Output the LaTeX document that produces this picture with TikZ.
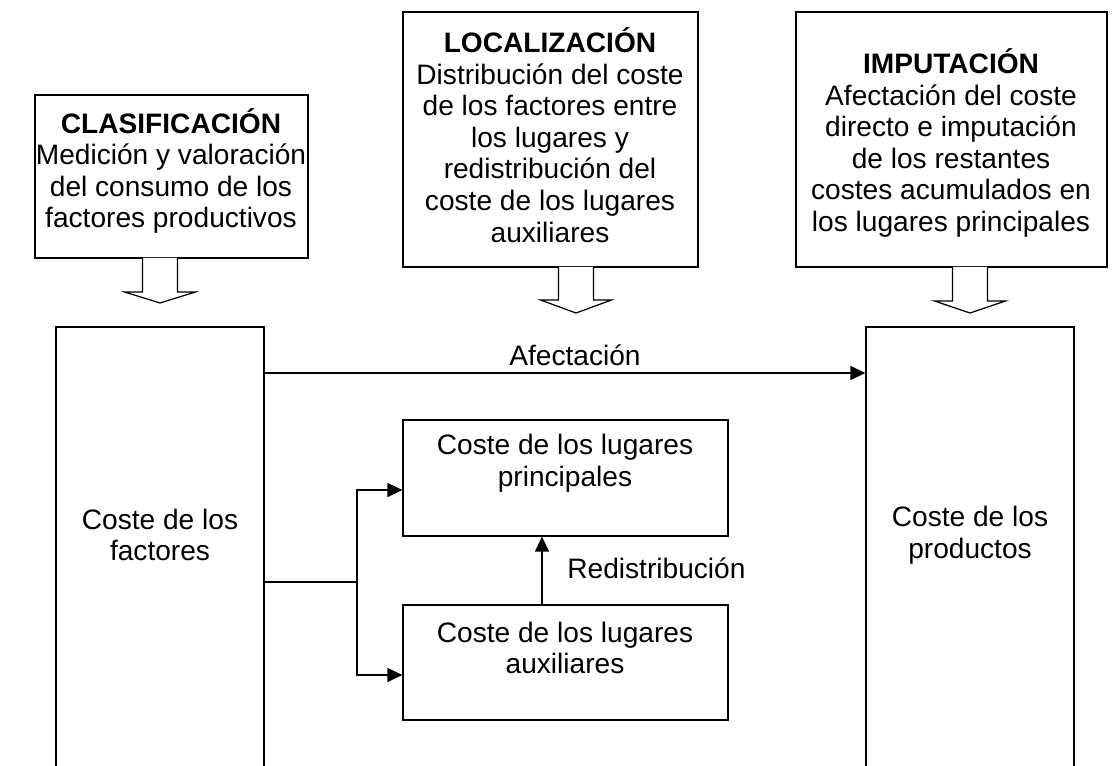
\documentclass[tikz,border=0pt]{standalone}
\usepackage{fontspec}
\setmainfont{Liberation Sans}
\usetikzlibrary{arrows.meta,fit}

\begin{document}
\begin{tikzpicture}[x=0.02cm, y=-0.02cm,
    box/.style = {draw, line width=0.7pt, inner sep=0pt},
    txt/.style = {align=center, font=\fontsize{16pt}{18pt}\selectfont, inner sep=0pt},
    arr/.style = {line width=0.7pt, -{Triangle[length=0.3cm, width=0.28cm]}}]
    \useasboundingbox (0,0) rectangle (1118,766);
    \clip (0,0) rectangle (1118,766);

    % upper boxes
    \node[box, fit={(35,95) (308,258)}] (clas) {};
    \node[box, fit={(403,12) (698,267)}] (loc) {};
    \node[box, fit={(796,12) (1107,267)}] (imp) {};
    \node[txt] (tclas) at (171,171) {\textbf{CLASIFICACIÓN}\\Medición y valoración\\del consumo de los\\factores productivos};
    \node[txt] (tloc) at (550,135) {\textbf{LOCALIZACIÓN}\\Distribución del coste\\de los factores entre\\los lugares y\\redistribución del\\coste de los lugares\\auxiliares};
    \node[txt] (timp) at (951,143) {\textbf{IMPUTACIÓN}\\Afectación del coste\\directo e imputación\\de los restantes\\costes acumulados en\\los lugares principales};

    % hollow arrows
    \foreach \cx/\top/\hy/\tip in {160/258/292/303, 576/267/300/313, 970/267/301/313}
        \draw[line width=0.7pt, fill=white] (\cx-17.5,\top) -- (\cx-17.5,\hy) -- (\cx-35.5,\hy)
            -- (\cx,\tip) -- (\cx+35.5,\hy) -- (\cx+17.5,\hy) -- (\cx+17.5,\top);

    % lower boxes
    \node[box, fit={(56,327) (264,820)}] (fact) {};
    \node[box, fit={(866,327) (1074,820)}] (prod) {};
    \node[box, fit={(403,420) (728,536)}] (princ) {};
    \node[box, fit={(403,605) (728,720)}] (aux) {};
    \node[txt] (tfact) at (160,535) {Coste de los\\factores};
    \node[txt] (tprod) at (970,535) {Coste de los\\productos};
    \node[txt] (tprinc) at (565,463) {Coste de los lugares\\principales};
    \node[txt] (taux) at (565,648) {Coste de los lugares\\auxiliares};

    % connectors
    \draw[arr] (fact.east |- 0,373) -- (prod.west |- 0,373);
    \node[txt] (lafe) at (575,355) {Afectación};
    \coordinate (split) at (357,582);
    \draw[line width=0.7pt] (fact.east |- split) -- (split);
    \draw[arr] (split) |- (princ.west |- 0,490);
    \draw[arr] (split) |- (aux.west |- 0,675);
    \draw[arr] (aux.north -| 542,0) -- (princ.south -| 542,0);
    \node[txt, anchor=west] (lred) at (567,568) {Redistribución};
\end{tikzpicture}
\end{document}
